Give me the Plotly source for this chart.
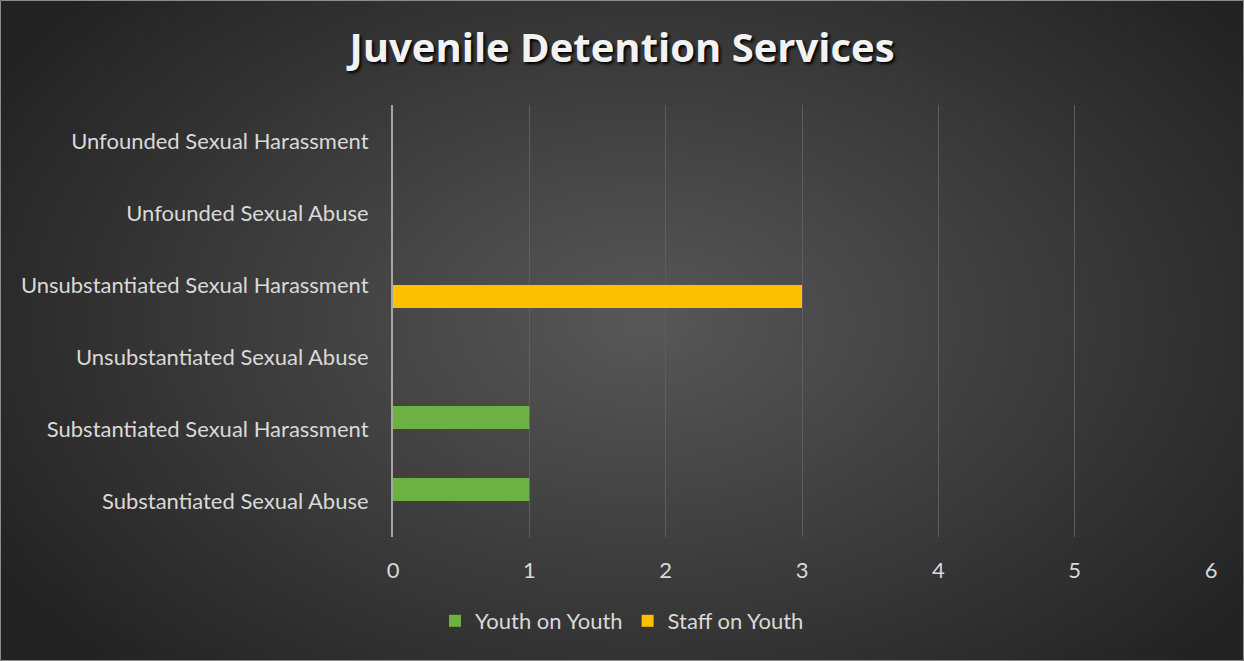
import base64
import struct
import zlib

import numpy as np
import plotly.graph_objects as go

# ---------------- data ----------------
categories = [
    "Substantiated Sexual Abuse",
    "Substantiated Sexual Harassment",
    "Unsubstantiated Sexual Abuse",
    "Unsubstantiated Sexual Harassment",
    "Unfounded Sexual Abuse",
    "Unfounded Sexual Harassment",
]
youth_on_youth = [1, 1, 0, 0, 0, 0]
staff_on_youth = [0, 0, 0, 3, 0, 0]
x_ticks = [0, 1, 2, 3, 4, 5, 6]
title_text = "Juvenile Detention Services"

# ---------------- background gradient (styling only) ----------------
W, H = 1244, 661
L, R, T, B = 393, 33, 105, 124
PW, PH = W - L - R, H - T - B


def radial_png(w, h, cx, cy, c_in, c_out):
    yy, xx = np.mgrid[0:h, 0:w].astype(float)
    d = np.sqrt(((xx - cx) / (w * 0.62)) ** 2 + ((yy - cy) / (h * 0.75)) ** 2)
    d = np.clip(d, 0, 1)
    v = c_in + (c_out - c_in) * d
    img = np.clip(v, 0, 255).astype(np.uint8)
    raw = b"".join(b"\x00" + bytes(np.repeat(row, 3)) for row in img)

    def chunk(tag, data):
        c = struct.pack(">I", len(data)) + tag + data
        return c + struct.pack(">I", zlib.crc32(tag + data) & 0xFFFFFFFF)

    png = b"\x89PNG\r\n\x1a\n"
    png += chunk(b"IHDR", struct.pack(">IIBBBBB", w, h, 8, 2, 0, 0, 0))
    png += chunk(b"IDAT", zlib.compress(raw, 9))
    png += chunk(b"IEND", b"")
    return "data:image/png;base64," + base64.b64encode(png).decode()


bg = radial_png(311, 165, 160, 80, 88, 34)

FONT = "Lato"
TXT = "#d9d9d9"

fig = go.Figure()
fig.add_trace(
    go.Bar(
        name="Staff on Youth",
        y=categories,
        x=staff_on_youth,
        orientation="h",
        marker=dict(color="#fcc000", line=dict(width=0)),
        legendrank=2,
    )
)
fig.add_trace(
    go.Bar(
        name="Youth on Youth",
        y=categories,
        x=youth_on_youth,
        orientation="h",
        marker=dict(color="#6cb142", line=dict(width=0)),
        legendrank=1,
    )
)

fig.update_layout(
    width=W,
    height=H,
    margin=dict(l=L, r=R, t=T, b=B, pad=0),
    paper_bgcolor="#333333",
    plot_bgcolor="rgba(0,0,0,0)",
    barmode="group",
    bargap=0.36,
    bargroupgap=0,
    font=dict(family=FONT, color=TXT),
    title=dict(
        text="<b>" + title_text + "</b>",
        x=0.5,
        xref="container",
        xanchor="center",
        y=1 - 48 / H,
        yref="container",
        yanchor="middle",
        font=dict(family="Open Sans", size=40, color="#f2f2f2",
                  shadow="2px 2px 3px #000000"),
    ),
    xaxis=dict(
        range=[0, 6],
        tickvals=x_ticks,
        ticktext=[str(t) for t in x_ticks],
        showgrid=True,
        gridcolor="#5e5e5e",
        gridwidth=1,
        zeroline=False,
        showline=False,
        ticks="",
        ticklabelstandoff=18,
        tickfont=dict(family=FONT, size=22, color=TXT),
        fixedrange=True,
    ),
    yaxis=dict(
        type="category",
        categoryorder="array",
        categoryarray=categories,
        showgrid=False,
        zeroline=False,
        showline=True,
        linecolor="#a6a6a6",
        linewidth=2,
        ticks="",
        ticklabelstandoff=18,
        tickfont=dict(family=FONT, size=22, color=TXT),
        fixedrange=True,
    ),
    legend=dict(
        orientation="h",
        xref="container",
        yref="container",
        x=0.5,
        xanchor="center",
        y=1 - 621 / H,
        yanchor="middle",
        font=dict(family=FONT, size=22, color=TXT),
        bgcolor="rgba(0,0,0,0)",
        itemwidth=30,
        traceorder="normal",
    ),
    images=[
        dict(
            source=bg,
            xref="paper",
            yref="paper",
            x=-L / PW,
            y=1 + T / PH,
            sizex=W / PW,
            sizey=H / PH,
            xanchor="left",
            yanchor="top",
            sizing="stretch",
            layer="below",
        )
    ],
    shapes=[
        dict(
            type="rect",
            xref="paper",
            yref="paper",
            x0=-L / PW + 0.5 / PW,
            x1=(W - L - 0.5) / PW,
            y0=-(B - 0.5) / PH,
            y1=1 + (T - 0.5) / PH,
            line=dict(color="#8c8c8c", width=1),
            fillcolor="rgba(0,0,0,0)",
            layer="above",
        )
    ],
)

fig.write_html(
    "out.html",
    config={"displayModeBar": False},
    post_script="document.body.style.margin='0';document.body.style.background='#2a2a2a';",
)
